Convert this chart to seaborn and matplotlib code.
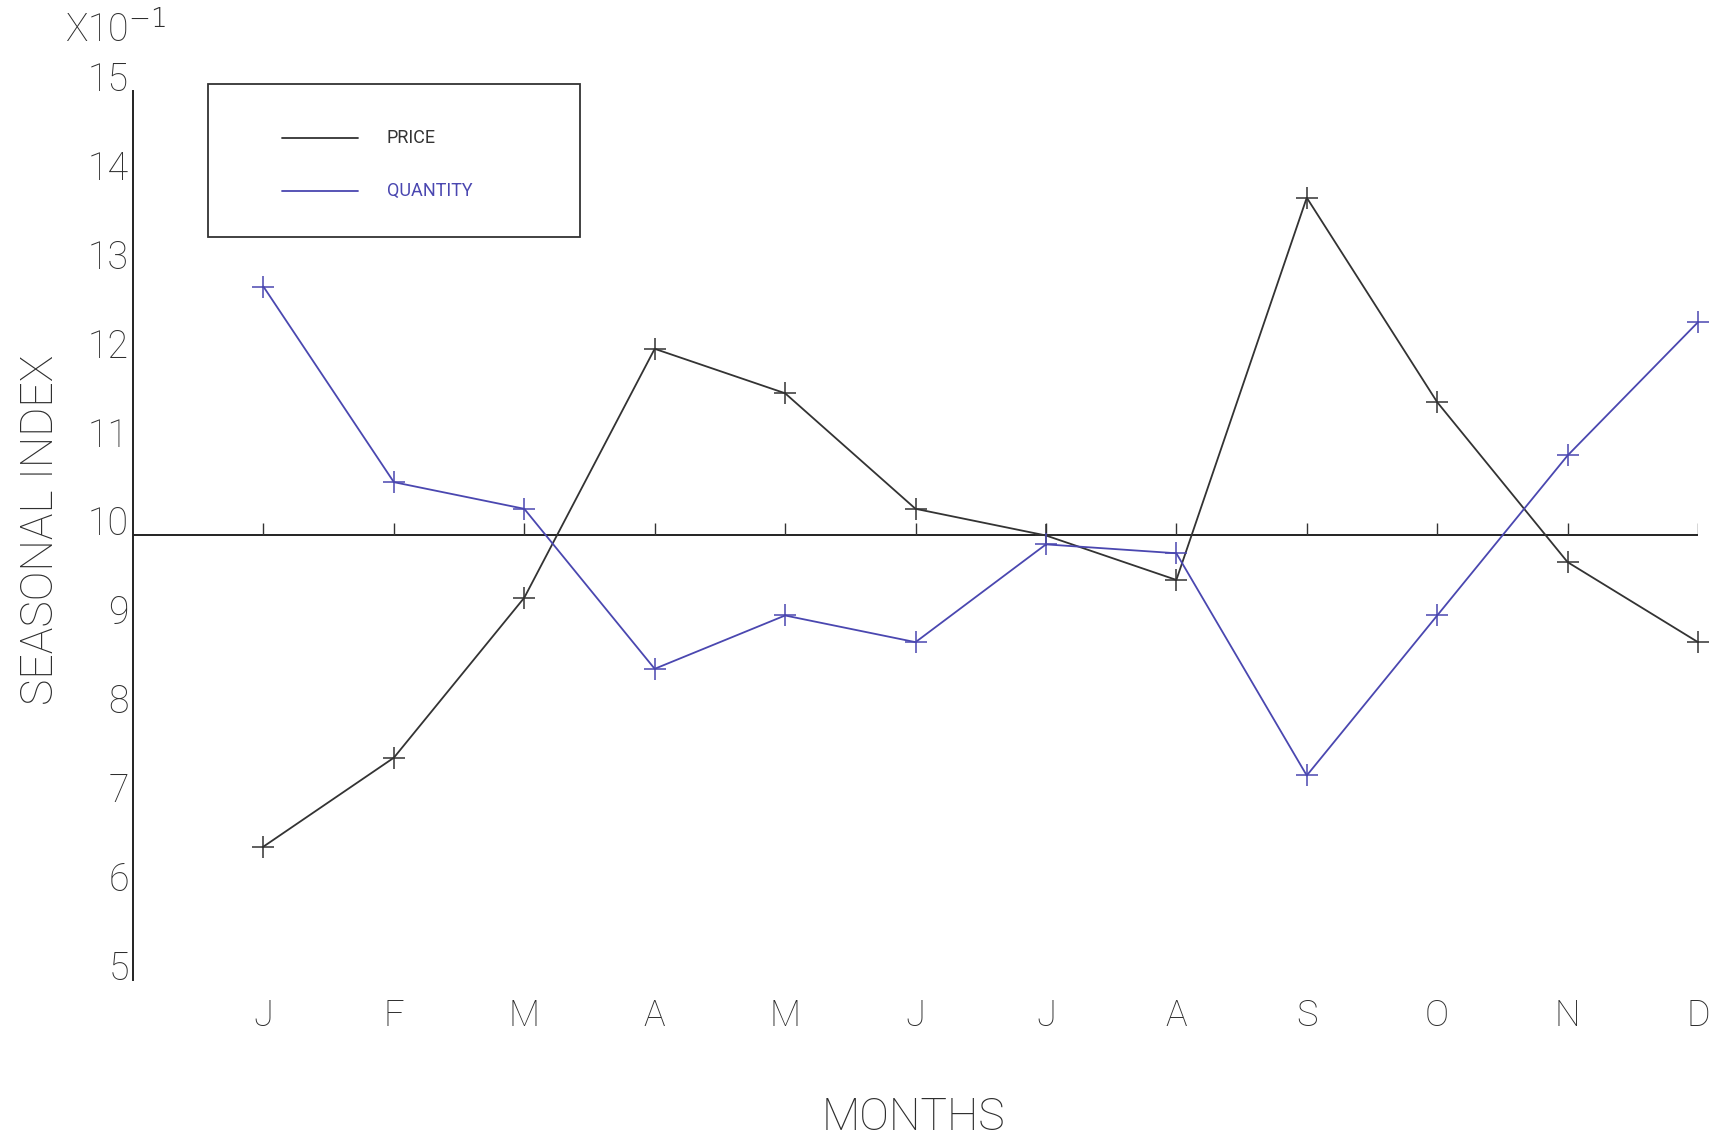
import matplotlib
matplotlib.use("Agg")
import matplotlib.pyplot as plt
from matplotlib.patches import Rectangle
import seaborn as sns
import pandas as pd

# Seasonal indices (scaled by 10, axis reads x10^-1)
months = ["J", "F", "M", "A", "M", "J", "J", "A", "S", "O", "N", "D"]
price = [6.5, 7.5, 9.3, 12.1, 11.6, 10.3, 10.0, 9.5, 13.8, 11.5, 9.7, 8.8]
quantity = [12.8, 10.6, 10.3, 8.5, 9.1, 8.8, 9.9, 9.8, 7.3, 9.1, 10.9, 12.4]
series_names = ["PRICE", "QUANTITY"]
y_ticks = list(range(5, 16))

colors = {"PRICE": "#333333", "QUANTITY": "#4a47b0"}
text_color = "#2e2e2e"

sns.set_theme(style="white")
plt.rcParams["font.family"] = ["Roboto", "DejaVu Sans"]
plt.rcParams["font.weight"] = "light"

x_pos = list(range(1, len(months) + 1))
df = pd.DataFrame({
    "month": x_pos * 2,
    "index": price + quantity,
    "series": [series_names[0]] * len(price) + [series_names[1]] * len(quantity),
})

fig = plt.figure(figsize=(17.23, 11.42), dpi=100)
ax = fig.add_axes([0.0772, 0.1419, 0.9083, 0.7784])

sns.lineplot(data=df, x="month", y="index", hue="series", palette=colors,
             marker="+", markersize=16, markeredgewidth=1.1, linewidth=1.3,
             legend=False, ax=ax, clip_on=False, sort=False)
# plus markers take the colour of their own series
for line in ax.lines:
    line.set_markeredgecolor(line.get_color())

ax.set_xlim(0, 12)
ax.set_ylim(5, 15)
ax.set_xlabel("")
ax.set_ylabel("")

# reference line at 100 with month ticks
ax.hlines(10, 0, 12, color="#222222", linewidth=1.4, zorder=1)
ax.vlines(x_pos, 10, 10.14, color="#333333", linewidth=1.0, zorder=1)

for side in ["top", "right", "bottom"]:
    ax.spines[side].set_visible(False)
ax.spines["left"].set_color("#222222")
ax.spines["left"].set_linewidth(1.4)

ax.set_yticks(y_ticks)
ax.set_yticklabels([str(v) for v in y_ticks])
ax.tick_params(axis="y", direction="in", length=7, width=1, color="#333333",
               labelsize=27, labelcolor=text_color, pad=3)
for lbl in ax.get_yticklabels():
    lbl.set_verticalalignment("baseline")

ax.set_xticks(x_pos)
ax.set_xticklabels(months)
ax.tick_params(axis="x", length=0, labelsize=26, labelcolor=text_color, pad=13)

fig.text(0.530, 0.021, "MONTHS", fontsize=32, color=text_color,
         ha="center", va="center")
fig.text(0.0235, 0.536, "SEASONAL INDEX", fontsize=32, color=text_color,
         ha="center", va="center", rotation=90)

fig.text(0.038, 0.963, "X10$^{-1}$", fontsize=27, color=text_color,
         ha="left", va="baseline")

# key box
ax.add_patch(Rectangle((0.048, 0.836), 0.2376, 0.172, transform=ax.transAxes,
                       fill=False, edgecolor="#333333", linewidth=1.3, clip_on=False))
for name, yk in zip(series_names, [0.947, 0.888]):
    ax.plot([0.095, 0.144], [yk, yk], transform=ax.transAxes, color=colors[name],
            linewidth=1.3, clip_on=False)
    ax.text(0.162, yk, name, transform=ax.transAxes, fontsize=13,
            fontweight="normal", color=colors[name], va="center", ha="left")

fig.savefig("out.png", dpi=100, facecolor="white")
